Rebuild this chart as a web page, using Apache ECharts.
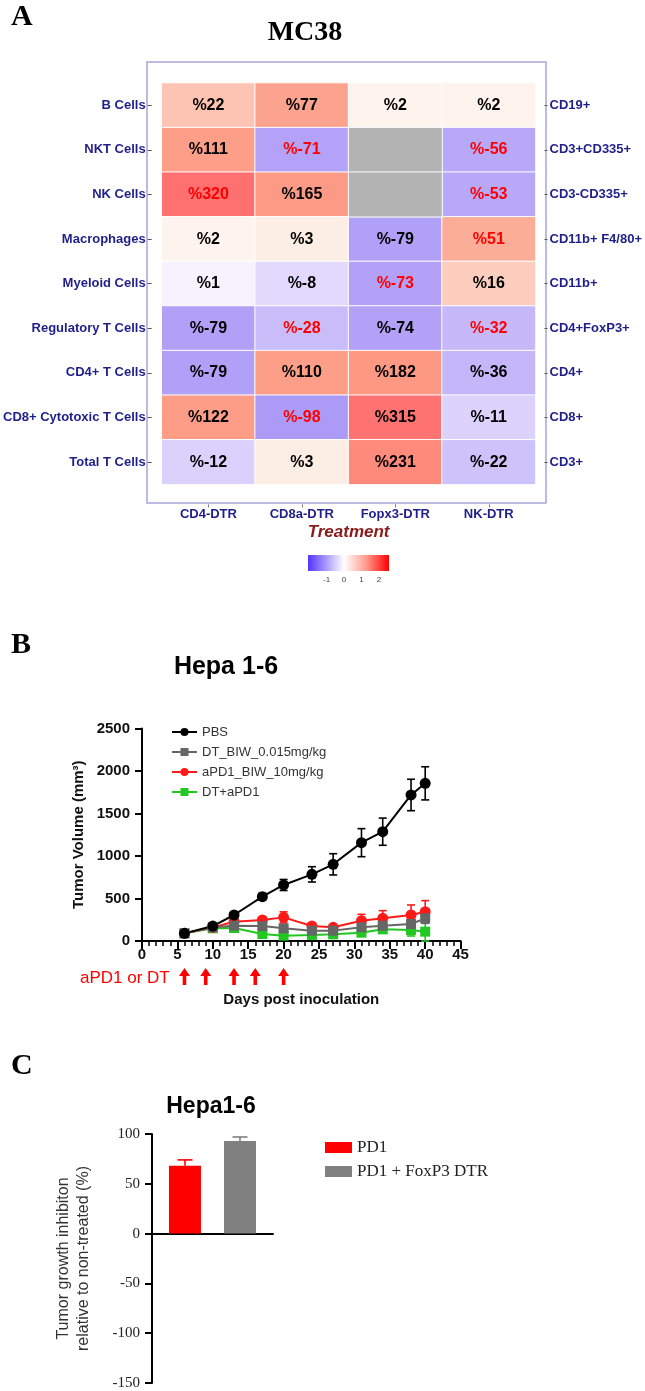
<!DOCTYPE html>
<html><head><meta charset="utf-8">
<script src="https://cdn.jsdelivr.net/npm/echarts@6/dist/echarts.min.js"></script>
<style>html,body{margin:0;padding:0;background:#fff}#c{width:645px;height:1391px}</style>
</head><body><div id="c"></div>
<script>
// ---------- Panel A data ----------
const cellTypes = ['B Cells','NKT Cells','NK Cells','Macrophages','Myeloid Cells','Regulatory T Cells','CD4+ T Cells','CD8+ Cytotoxic T Cells','Total T Cells'];
const markers = ['CD19+','CD3+CD335+','CD3-CD335+','CD11b+ F4/80+','CD11b+','CD4+FoxP3+','CD4+','CD8+','CD3+'];
const treatments = ['CD4-DTR','CD8a-DTR','Fopx3-DTR','NK-DTR'];
const pctCD4   = [22, 111, 320, 2, 1, -79, -79, 122, -12];
const pctCD8a  = [77, -71, 165, 3, -8, -28, 110, -98, 3];
const pctFopx3 = [2, null, null, -79, -73, -74, 182, 315, 231];
const pctNK    = [2, -56, -53, 51, 16, -32, -36, -11, -22];
const sigCD4   = [0,0,1,0,0,0,0,0,0];
const sigCD8a  = [0,1,0,0,0,1,0,1,0];
const sigFopx3 = [0,0,0,0,1,0,0,0,0];
const sigNK    = [0,1,1,1,0,1,0,0,0];
const colorbarTicks = [-1, 0, 1, 2];

// ---------- Panel B data ----------
const days = [6,10,13,17,20,24,27,31,34,38,40];
const pbsMean   = [90,176,306,521,659,784,902,1157,1286,1718,1855];
const pbsErr    = [15,20,25,40,65,90,125,165,160,185,195];
const dtMean    = [90,161,180,176,149,122,122,161,180,200,267];
const dtErr     = [15,20,25,30,30,30,30,35,35,40,60];
const apd1Mean  = [90,160,227,247,278,176,161,239,267,306,345];
const apd1Err   = [15,20,30,35,65,35,30,75,90,118,130];
const comboMean = [90,150,153,82,63,71,78,98,137,129,110];
const comboErr  = [15,20,25,25,25,20,20,30,40,70,110];
const doseDays  = [6,9,13,16,20];

// ---------- Panel C data ----------
const inhibitionModel  = ['Hepa1-6'];
const inhibitionGroups = ['PD1','PD1 + FoxP3 DTR'];
const inhibitionMean   = [68, 93];
const inhibitionErr    = [6, 4];

// ---------- styling helpers ----------
const SANS = 'Liberation Sans', SERIF = 'Liberation Serif';
const colorStops = [[-100,'#ab9af6'],[-70,'#b3a2f7'],[-50,'#b9aaf8'],[-30,'#c8bbf9'],[-20,'#cfc4fa'],[-10,'#ddd4fc'],[-8,'#e2d9fc'],[1,'#f6f2fe'],[2,'#fef3ed'],[3,'#fdeee5'],[16,'#fdcdbd'],[22,'#fdc3b3'],[51,'#fcad98'],[77,'#fca38e'],[110,'#fd9e88'],[165,'#fc9a85'],[182,'#fd9882'],[231,'#fe8a7c'],[315,'#ff7272'],[320,'#ff7070']];
function hex2rgb(h){return [parseInt(h.slice(1,3),16),parseInt(h.slice(3,5),16),parseInt(h.slice(5,7),16)];}
function colorAt(v){
  for(let i=0;i<colorStops.length-1;i++){
    const [a,ca]=colorStops[i],[b,cb]=colorStops[i+1];
    if(v>=a&&v<=b){const t=(v-a)/(b-a),A=hex2rgb(ca),B=hex2rgb(cb);
      return 'rgb('+A.map((x,k)=>Math.round(x+(B[k]-x)*t)).join(',')+')';}
  }
  return v<colorStops[0][0]?colorStops[0][1]:colorStops[colorStops.length-1][1];
}
const vmMin=-100, vmMax=320, vmColors=[];
for(let v=vmMin; v<=vmMax; v++) vmColors.push(colorAt(v));

const pctCols=[pctCD4,pctCD8a,pctFopx3,pctNK];
const sigCols=[sigCD4,sigCD8a,sigFopx3,sigNK];
const heatData=[], naData=[];
pctCols.forEach((arr,ci)=>arr.forEach((v,ri)=>{
  if(v===null) naData.push([ci,ri,0]);
  else heatData.push({value:[ci,ri,v],label:{color:sigCols[ci][ri]?'#ff0000':'#000000'}});
}));

function errSeries(mean, err, color){
  return {type:'custom', xAxisIndex:1, yAxisIndex:2, silent:true, clip:false,
    encode:{x:0,y:1},
    data: days.map((d,i)=>[d, mean[i], err[i]]),
    renderItem(params, api){
      const x=api.value(0), m=api.value(1), e=api.value(2);
      const t=api.coord([x,m+e]), b=api.coord([x,m-e]), w=4;
      const st={stroke:color,lineWidth:1.6};
      return {type:'group',children:[
        {type:'line',shape:{x1:t[0],y1:t[1],x2:b[0],y2:b[1]},style:st},
        {type:'line',shape:{x1:t[0]-w,y1:t[1],x2:t[0]+w,y2:t[1]},style:st},
        {type:'line',shape:{x1:b[0]-w,y1:b[1],x2:b[0]+w,y2:b[1]},style:st}
      ]};
    }};
}
function lineSeries(name, mean, color, symbol){
  return {type:'line', name, xAxisIndex:1, yAxisIndex:2, data:days.map((d,i)=>[d,mean[i]]),
    symbol, symbolSize: symbol==='rect'?10:11, color, itemStyle:{color},
    lineStyle:{color, width:2}};
}
const groups=[
  {name:'DT+aPD1', mean:comboMean, err:comboErr, color:'#22c722', sym:'rect'},
  {name:'aPD1_BIW_10mg/kg', mean:apd1Mean, err:apd1Err, color:'#ff1a1a', sym:'circle'},
  {name:'DT_BIW_0.015mg/kg', mean:dtMean, err:dtErr, color:'#666666', sym:'rect'},
  {name:'PBS', mean:pbsMean, err:pbsErr, color:'#000000', sym:'circle'}
];
const lineSeriesList=[];
groups.forEach(g=>{lineSeriesList.push(errSeries(g.mean,g.err,g.color)); lineSeriesList.push(lineSeries(g.name,g.mean,g.color,g.sym));});

const navy='#1f1f8a';
const hmAxisLabel={color:navy,fontFamily:SANS,fontWeight:'bold',fontSize:13};
const blackAxis={lineStyle:{color:'#000',width:2}};

const chart=echarts.init(document.getElementById('c'),null,{renderer:'canvas'});
chart.setOption({
  animation:false,
  backgroundColor:'#fff',
  grid:[
    {left:157, top:83, width:380, height:401.4},
    {left:142, top:728.5, width:318.6, height:212.5},
    {left:152, top:1134, width:121, height:249},
    {left:308, top:555, width:81, height:16}
  ],
  visualMap:{show:false, type:'continuous', seriesIndex:0, dimension:2, min:vmMin, max:vmMax, inRange:{color:vmColors}},
  legend:[
    {data:['PBS','DT_BIW_0.015mg/kg','aPD1_BIW_10mg/kg','DT+aPD1'], orient:'vertical', left:166, top:720,
     itemWidth:25, itemHeight:10, itemGap:6, textStyle:{fontFamily:SANS,fontSize:13,color:'#333',lineHeight:14}},
    {data:inhibitionGroups, orient:'vertical', left:320, top:1134, icon:'rect', itemWidth:27, itemHeight:11, itemGap:7,
     textStyle:{fontFamily:SERIF,fontSize:17,color:'#222',lineHeight:17}}
  ],
  xAxis:[
    {type:'category', gridIndex:0, data:treatments, position:'bottom', offset:20,
     axisLine:{show:false}, axisTick:{show:true, alignWithLabel:true, length:3, lineStyle:{color:'#777'}},
     axisLabel:{...hmAxisLabel, margin:4},
     name:'Treatment', nameLocation:'middle', nameGap:19,
     nameTextStyle:{color:'#8b1a1a',fontFamily:SANS,fontStyle:'italic',fontWeight:'bold',fontSize:17}},
    {type:'value', gridIndex:1, min:0, max:45, interval:5, splitLine:{show:false},
     axisLine:blackAxis, axisTick:{length:8, lineStyle:{color:'#000',width:2}},
     minorTick:{show:true, splitNumber:5, length:5, lineStyle:{color:'#000',width:1.5}},
     axisLabel:{fontFamily:SANS,fontWeight:'bold',fontSize:15,color:'#111',margin:6},
     name:'Days post inoculation', nameLocation:'middle', nameGap:51,
     nameTextStyle:{fontFamily:SANS,fontWeight:'bold',fontSize:15,color:'#111'}},
    {type:'category', gridIndex:2, data:inhibitionModel, axisLine:{onZero:true,lineStyle:{color:'#000',width:2}},
     axisTick:{show:false}, axisLabel:{show:false}},
    {type:'value', gridIndex:3, min:-2.06, max:2.57, axisLine:{show:false}, axisTick:{show:false}, splitLine:{show:false},
     axisLabel:{customValues:colorbarTicks, fontFamily:SANS, fontSize:8, color:'#444', margin:5}}
  ],
  yAxis:[
    {type:'category', gridIndex:0, data:cellTypes, inverse:true, position:'left', offset:10,
     axisLine:{show:false}, axisTick:{show:true, alignWithLabel:true, length:4, lineStyle:{color:'#555'}},
     axisLabel:{...hmAxisLabel, margin:6}},
    {type:'category', gridIndex:0, data:markers, inverse:true, position:'right', offset:9,
     axisLine:{show:false}, axisTick:{show:true, alignWithLabel:true, length:3, lineStyle:{color:'#555'}},
     axisLabel:{...hmAxisLabel, margin:5}},
    {type:'value', gridIndex:1, min:0, max:2500, interval:500, splitLine:{show:false},
     axisLine:{show:true,...blackAxis}, axisTick:{show:true,length:7,lineStyle:{color:'#000',width:2}},
     axisLabel:{fontFamily:SANS,fontWeight:'bold',fontSize:15,color:'#111',margin:12, formatter:v=>String(v)},
     name:'Tumor Volume (mm³)', nameLocation:'middle', nameGap:56,
     nameTextStyle:{fontFamily:SANS,fontWeight:'bold',fontSize:15,color:'#111'}},
    {type:'value', gridIndex:2, min:-150, max:100, interval:50, splitLine:{show:false},
     axisLine:{show:true,...blackAxis}, axisTick:{show:true,length:7,lineStyle:{color:'#000',width:2}},
     axisLabel:{fontFamily:SERIF,fontSize:15,color:'#222',margin:12},
     name:'Tumor growth inhibiton\nrelative to non-treated (%)', nameLocation:'middle', nameGap:58,
     nameTextStyle:{fontFamily:SANS,fontSize:16,lineHeight:20,color:'#333'}},
    {type:'value', gridIndex:3, show:false, min:0, max:1}
  ],
  series:[
    {type:'heatmap', xAxisIndex:0, yAxisIndex:0, data:heatData,
     itemStyle:{borderColor:'#ffffff', borderWidth:1},
     label:{show:true, fontFamily:SANS, fontWeight:'bold', fontSize:16, formatter:p=>'%'+p.value[2]},
     emphasis:{disabled:true}},
    {type:'heatmap', xAxisIndex:0, yAxisIndex:0, data:naData,
     itemStyle:{color:'#b3b3b3', borderColor:'#ffffff', borderWidth:1}, label:{show:false}, emphasis:{disabled:true}},
    ...lineSeriesList,
    {type:'custom', xAxisIndex:1, yAxisIndex:2, silent:true, clip:false, encode:{x:0,y:1},
     data:doseDays.map(d=>[d,0]),
     renderItem(params, api){
       const p=api.coord([api.value(0),0]); const x=p[0], yT=p[1]+27, yB=p[1]+44;
       return {type:'polygon', shape:{points:[[x,yT],[x-5.5,yT+8],[x-1.8,yT+8],[x-1.8,yB],[x+1.8,yB],[x+1.8,yT+8],[x+5.5,yT+8]]},
         style:{fill:'#ff0000'}};
     }},
    {type:'bar', name:inhibitionGroups[0], xAxisIndex:2, yAxisIndex:3, data:[inhibitionMean[0]], barWidth:32, barGap:'72%',
     itemStyle:{color:'#ff0000'}},
    {type:'bar', name:inhibitionGroups[1], xAxisIndex:2, yAxisIndex:3, data:[inhibitionMean[1]], barWidth:32, barGap:'72%',
     itemStyle:{color:'#808080'}},
    {type:'custom', xAxisIndex:2, yAxisIndex:3, silent:true, encode:{x:0,y:1},
     data:inhibitionMean.map((m,i)=>[0,m,inhibitionErr[i],i]),
     renderItem(params, api){
       const m=api.value(1), e=api.value(2), i=api.value(3);
       const c=api.coord([0,m]), t=api.coord([0,m+e]);
       const x=c[0]+(i===0?-27.5:27.5); const col=i===0?'#ff0000':'#808080';
       const st={stroke:col,lineWidth:1.6};
       return {type:'group',children:[
         {type:'line',shape:{x1:x,y1:c[1],x2:x,y2:t[1]},style:st},
         {type:'line',shape:{x1:x-7.5,y1:t[1],x2:x+7.5,y2:t[1]},style:st}
       ]};
     }}
  ],
  graphic:[
    {type:'text', x:11, y:17, style:{text:'A', font:'bold 30px "Liberation Serif"', fill:'#000', verticalAlign:'middle'}},
    {type:'text', x:305, y:33, style:{text:'MC38', font:'bold 28px "Liberation Serif"', fill:'#000', align:'center', verticalAlign:'middle'}},
    {type:'rect', shape:{x:147, y:62, width:399, height:441}, style:{fill:null, stroke:'#a5a5dc', lineWidth:1.5}, silent:true},
    {type:'rect', shape:{x:308, y:555, width:81, height:16}, silent:true,
     style:{fill:new echarts.graphic.LinearGradient(0,0,1,0,[{offset:0,color:'#5533ff'},{offset:0.22,color:'#a898ff'},{offset:0.445,color:'#ffffff'},{offset:0.72,color:'#ff9a8c'},{offset:1,color:'#ff0000'}])}},
    {type:'text', x:11, y:645, style:{text:'B', font:'bold 30px "Liberation Serif"', fill:'#000', verticalAlign:'middle'}},
    {type:'text', x:226, y:667, style:{text:'Hepa 1-6', font:'bold 25px "Liberation Sans"', fill:'#000', align:'center', verticalAlign:'middle'}},
    {type:'text', x:80, y:978, style:{text:'aPD1 or DT', font:'17px "Liberation Sans"', fill:'#ff0000', verticalAlign:'middle'}},
    {type:'text', x:11, y:1066, style:{text:'C', font:'bold 30px "Liberation Serif"', fill:'#000', verticalAlign:'middle'}},
    {type:'text', x:211, y:1107, style:{text:'Hepa1-6', font:'bold 23px "Liberation Sans"', fill:'#000', align:'center', verticalAlign:'middle'}}
  ]
});
</script></body></html>
